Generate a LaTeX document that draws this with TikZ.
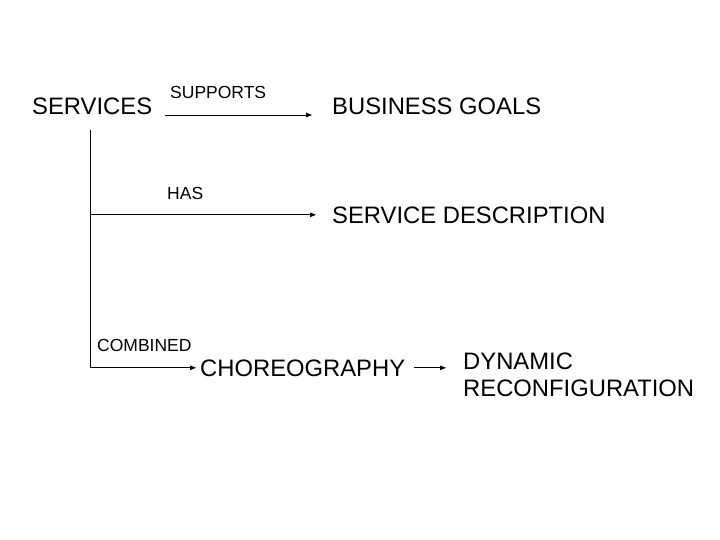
\documentclass[tikz,border=0pt]{standalone}
\usepackage{fontspec}
\setmainfont{Liberation Sans}
\usetikzlibrary{positioning}
\usetikzlibrary{arrows.meta}
\usetikzlibrary{calc}
\tikzset{
  % Concept names
  concept/.style={font=\fontsize{23.8}{27}\selectfont, inner sep=0pt, align=left},
  % Relationship names
  rel/.style={font=\fontsize{17.5}{20}\selectfont, inner sep=0pt},
  % Relationships
  link/.style={-{Triangle[length=6pt,width=4.5pt]}, draw=black, line width=0.8pt},
  trunk/.style={draw=black, line width=0.8pt},
}
\begin{document}
\begin{tikzpicture}[x=1pt,y=-1pt]
\useasboundingbox (0,0) rectangle (720,540);

\node[concept, anchor=base west] (serv) at (32,115) {SERVICES};
\node[concept, anchor=base west] (goals) at (332,115) {BUSINESS GOALS};
\node[concept, anchor=base west] (desc) at (332,223) {SERVICE DESCRIPTION};
\node[concept, anchor=base west] (choreo) at (200,376) {CHOREOGRAPHY};
\node[concept, anchor=west] (dyn) at (463,375) {DYNAMIC\\RECONFIGURATION};

\node[rel, anchor=base west] (supports) at (170,99) {SUPPORTS};
\node[rel, anchor=base west] (has) at (167,200) {HAS};
\node[rel, anchor=base west] (combined) at (97,351) {COMBINED};

\coordinate (top) at (90,130);

\draw[link] ([xshift=13pt]serv.base east) -- ([xshift=-20pt]goals.base west);
\draw[trunk] (top) -- (top |- choreo.west);
\draw[link] (top |- desc.west) -- ([xshift=-16pt]desc.west);
\draw[link] (top |- choreo.west) -- ([xshift=-4pt]choreo.west);
\draw[link] ([xshift=9pt]choreo.east) -- ([xshift=-17pt]dyn.west |- choreo.east);

\end{tikzpicture}
\end{document}
